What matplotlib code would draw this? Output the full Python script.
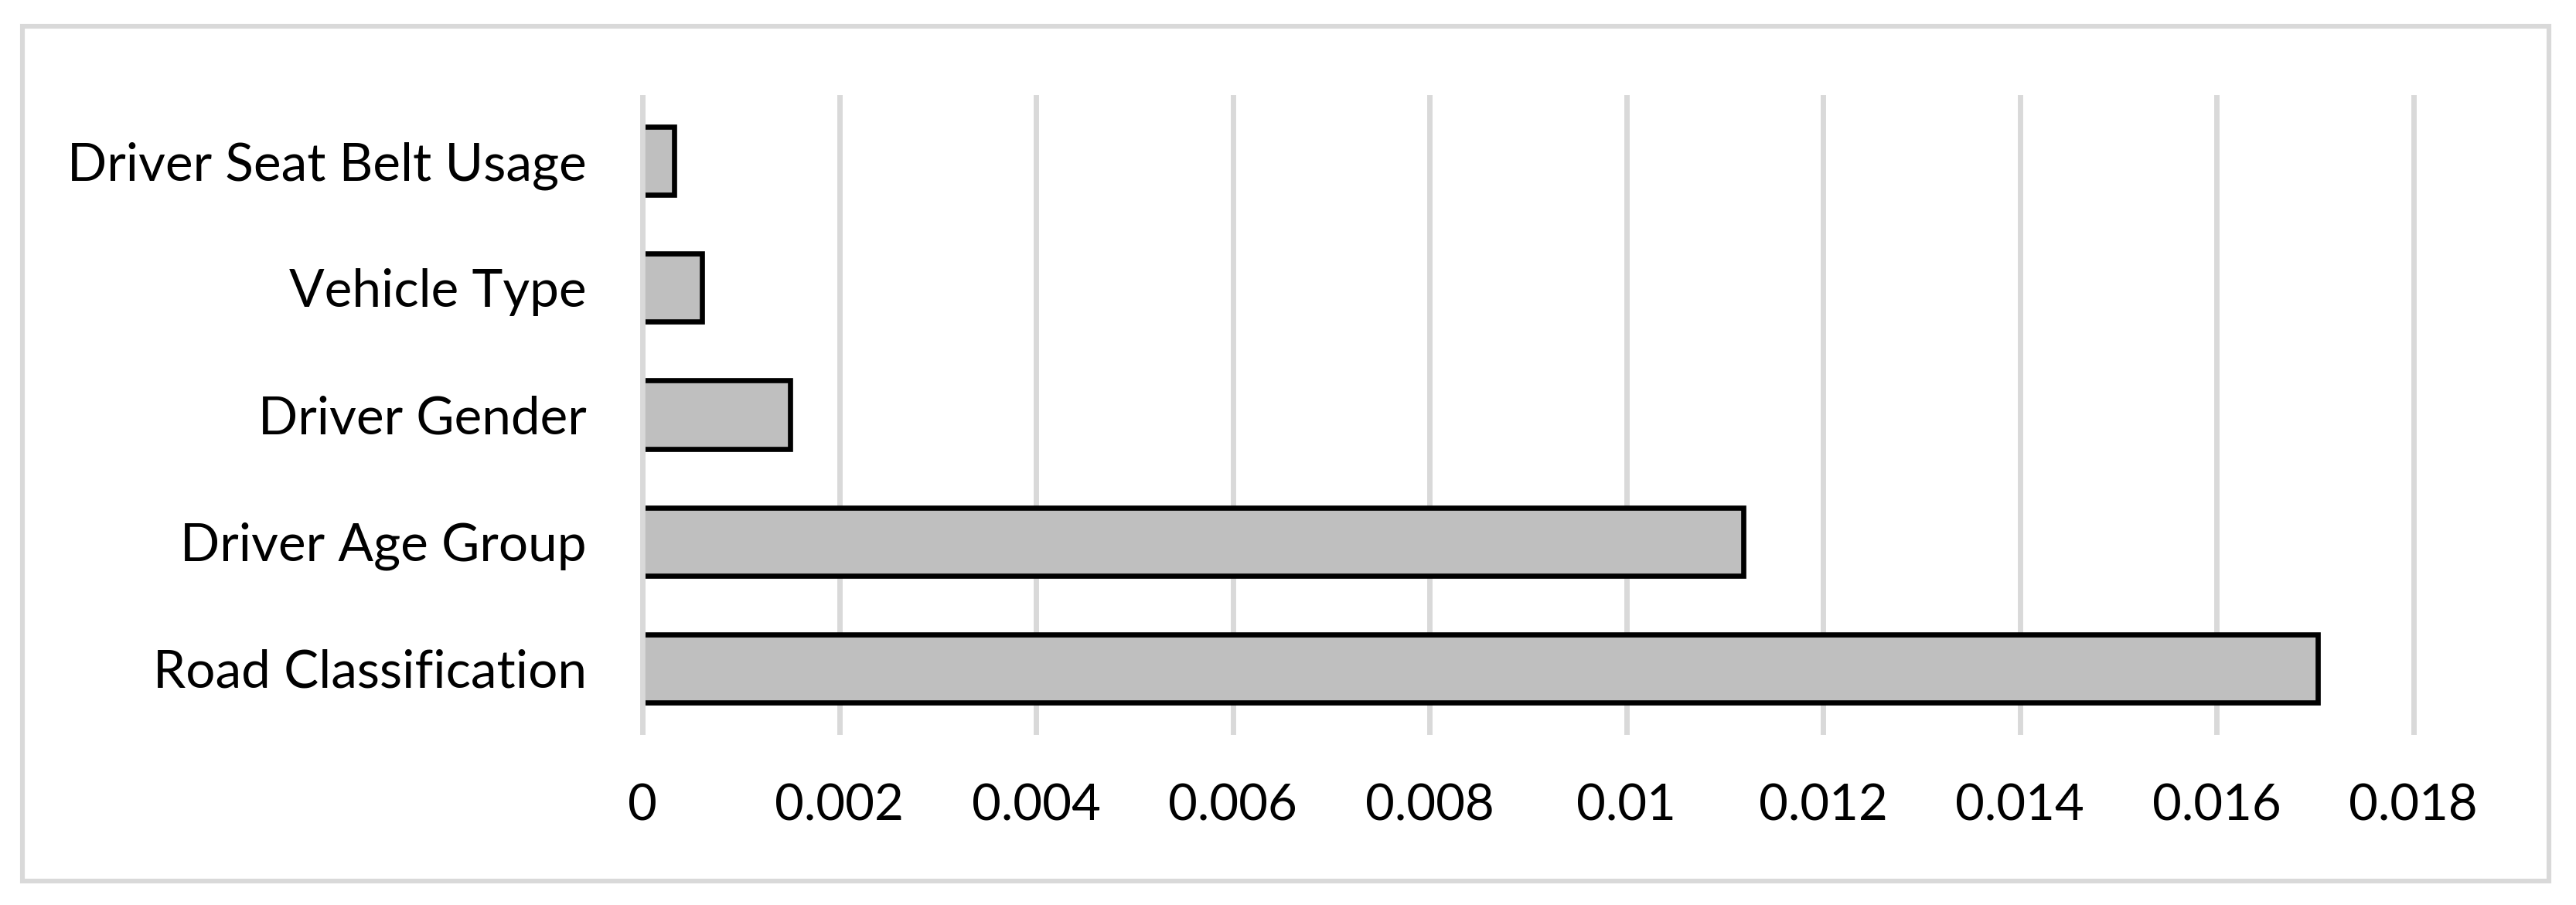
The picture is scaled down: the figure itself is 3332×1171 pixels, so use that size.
import matplotlib
matplotlib.use("Agg")
import matplotlib.pyplot as plt
from matplotlib.patches import Rectangle

categories = ["Road Classification", "Driver Age Group", "Driver Gender",
              "Vehicle Type", "Driver Seat Belt Usage"]
values = [0.01703, 0.01119, 0.00150, 0.00060, 0.00032]
xticks = [0, 0.002, 0.004, 0.006, 0.008, 0.01, 0.012, 0.014, 0.016, 0.018]
xtick_labels = ["0", "0.002", "0.004", "0.006", "0.008", "0.01", "0.012",
                "0.014", "0.016", "0.018"]

plt.rcParams['font.family'] = ['Lato', 'DejaVu Sans']

W, H, DPI = 3332, 1171, 200
fig = plt.figure(figsize=(W / DPI, H / DPI), dpi=DPI)
fig.patch.set_facecolor("white")

# outer frame
fig.patches.append(Rectangle((29 / W, 1 - 1140 / H), (3297 - 29) / W, (1140 - 34) / H,
                             transform=fig.transFigure, fill=False,
                             edgecolor="#d9d9d9", linewidth=2.2, zorder=0))

ax = fig.add_axes([831.3 / W, 1 - 947 / H, (3121.5 - 831.3) / W, (947 - 126) / H])
ax.set_facecolor("white")
ypos = list(range(len(categories)))
ax.barh(ypos, values, height=0.536, color="#bfbfbf", edgecolor="black",
        linewidth=2.4, zorder=2)

ax.set_xlim(xticks[0], xticks[-1])
ax.set_ylim(-0.5, len(categories) - 0.5)
ax.set_xticks(xticks)
ax.set_xticklabels(xtick_labels)
ax.set_yticks(ypos)
ax.set_yticklabels(categories)

for t in xticks:
    ax.axvline(t, color="#d9d9d9", linewidth=2.5, zorder=3 if t == 0 else 1,
               clip_on=False)

for s in ax.spines.values():
    s.set_visible(False)
ax.tick_params(axis="both", length=0, colors="black")
ax.tick_params(axis="x", labelsize=23.5, pad=24)
ax.tick_params(axis="y", labelsize=24.3, pad=26)

fig.savefig("out.png", dpi=DPI, facecolor="white")
